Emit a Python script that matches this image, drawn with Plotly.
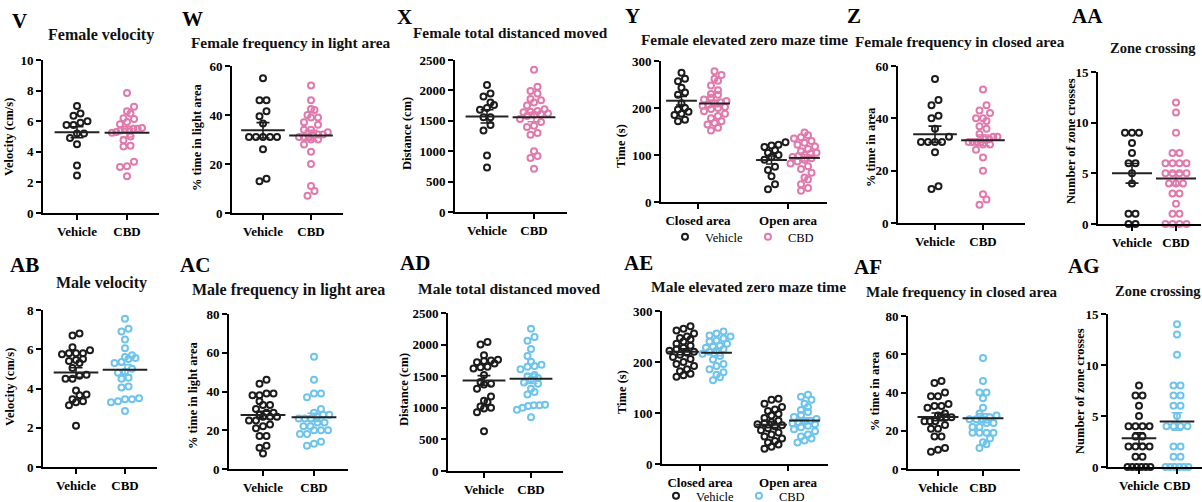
import numpy as np
import plotly.graph_objects as go

W_PX, H_PX = 1202, 502
SERIF = "Liberation Serif"
VEH_COLOR = "#1c1c1c"
PINK = "#e07aac"
BLUE = "#6ec4eb"
MEAN_COLOR = "#222222"

# ---------------- data ----------------
group_labels = ["Vehicle", "CBD"]
area_labels = ["Closed area", "Open area"]

# Female
f_velocity_vehicle = [7.0, 6.5, 6.35, 6.0, 5.9, 5.75, 5.75, 5.2, 5.2, 4.9, 4.5, 3.1, 2.45]
f_velocity_cbd = [7.85, 6.95, 6.65, 6.5, 6.2, 6.15, 5.95, 5.8, 5.55, 5.5, 5.5, 5.45, 5.45, 5.4,
                  5.3, 5.25, 5.0, 4.75, 4.4, 4.35, 3.35, 3.05, 3.0, 2.4]
f_light_vehicle = [55, 46, 46, 41.5, 39.5, 36.5, 31, 31, 31, 31, 31, 26, 14, 13]
f_light_cbd = [52, 46, 42.5, 42, 40, 39, 39, 37, 36, 34, 34, 33, 32, 32, 31.5, 31, 31, 31, 30, 30,
               28, 25, 20, 11, 9, 7]
f_distance_vehicle = [2090, 1950, 1900, 1800, 1760, 1710, 1680, 1560, 1560, 1430, 1340, 930, 730]
f_distance_cbd = [2340, 2060, 1990, 1950, 1860, 1840, 1800, 1750, 1690, 1660, 1650, 1640, 1620,
                  1610, 1600, 1580, 1530, 1480, 1420, 1400, 1300, 1270, 1000, 920, 890, 710]
f_ezm_closed_vehicle = [275, 262, 257, 243, 233, 228, 210, 200, 197, 192, 188, 185, 175, 172]
f_ezm_closed_cbd = [278, 270, 262, 258, 248, 238, 230, 228, 222, 218, 215, 212, 210, 207, 205, 202,
                    200, 198, 193, 188, 183, 178, 172, 168, 165, 158, 152]
f_ezm_open_vehicle = [127, 122, 120, 117, 110, 105, 100, 96, 90, 75, 68, 55, 38, 27]
f_ezm_open_cbd = [148, 142, 138, 135, 130, 126, 122, 118, 113, 108, 105, 103, 100, 98, 96, 93, 90,
                  86, 82, 76, 70, 62, 52, 48, 38, 30, 24]
f_closed_vehicle = [55, 47, 45, 41, 40, 36, 33, 31, 31, 31, 31, 27, 14, 13]
f_closed_cbd = [51, 45, 43, 42, 40, 40, 39, 37, 36, 34, 33, 33, 32, 32, 31, 31, 31, 31, 30, 30, 28,
                25, 20, 11, 9, 7]
f_zone_vehicle = [9, 9, 9, 8, 7, 6, 6, 5, 4, 1, 1, 0, 0]
f_zone_cbd = [12, 11, 9, 7, 7, 6, 6, 6, 6, 5, 5, 5, 5, 4, 4, 4, 3, 3, 2, 1, 1, 0, 0, 0, 0]

# Male
m_velocity_vehicle = [6.8, 6.7, 6.1, 5.95, 5.8, 5.8, 5.8, 5.75, 5.5, 5.45, 5.4, 5.3, 5.05, 4.7, 4.65,
                      4.5, 4.5, 3.9, 3.7, 3.65, 3.45, 3.35, 3.3, 3.15, 2.1]
m_velocity_cbd = [7.55, 7.05, 6.9, 6.5, 6.05, 5.7, 5.6, 5.55, 5.5, 5.35, 5.3, 5.0, 4.85, 4.8, 4.55,
                  4.5, 4.1, 4.05, 3.5, 3.45, 3.45, 3.35, 3.3, 2.85]
m_light_vehicle = [46, 44, 39, 39, 38, 38, 35, 33, 33, 31, 29, 29, 28, 27, 27, 27, 25, 25, 23, 22, 21,
                   17, 17, 12, 11, 8]
m_light_cbd = [58, 46, 39, 39, 37, 31, 29, 28, 28, 27, 26, 26, 26, 24, 24, 22, 22, 20, 20, 20, 18, 18,
               14, 13, 12]
m_distance_vehicle = [2040, 2000, 1830, 1760, 1750, 1740, 1720, 1700, 1650, 1640, 1620, 1520, 1410,
                      1380, 1370, 1300, 1180, 1110, 1090, 1020, 1000, 990, 930, 630]
m_distance_cbd = [2250, 2120, 2060, 1930, 1820, 1730, 1680, 1660, 1650, 1610, 1520, 1500, 1470, 1450,
                  1400, 1380, 1300, 1250, 1210, 1050, 1040, 1040, 1030, 1000, 970, 850]
m_ezm_closed_vehicle = [270, 265, 262, 256, 250, 247, 244, 240, 236, 232, 228, 225, 222, 220, 218,
                        214, 210, 206, 200, 196, 192, 186, 182, 177, 174, 171]
m_ezm_closed_cbd = [260, 256, 252, 250, 246, 242, 240, 236, 232, 230, 228, 225, 222, 220, 216, 212,
                    205, 196, 192, 186, 180, 175, 170, 164]
m_ezm_open_vehicle = [128, 126, 118, 112, 107, 104, 98, 95, 90, 85, 82, 80, 78, 76, 74, 70, 66, 62,
                      58, 54, 50, 45, 42, 38, 34, 30]
m_ezm_open_cbd = [136, 132, 126, 118, 112, 106, 102, 96, 92, 88, 85, 83, 82, 80, 78, 75, 72, 68, 64,
                  58, 54, 50, 46, 42]
m_closed_vehicle = [46, 45, 40, 38, 38, 34, 33, 33, 32, 29, 28, 27, 27, 27, 25, 25, 25, 23, 21, 21,
                    17, 17, 11, 10, 9]
m_closed_cbd = [58, 46, 40, 40, 37, 32, 29, 28, 27, 26, 26, 26, 24, 24, 22, 22, 19, 19, 19, 19, 16,
                14, 13, 11]
m_zone_vehicle = [8, 7, 7, 6, 5, 4, 4, 4, 4, 3, 3, 2, 2, 2, 2, 1, 1, 0, 0, 0, 0, 0, 0]
m_zone_cbd = [14, 13, 11, 8, 8, 7, 7, 6, 6, 5, 4, 4, 4, 4, 2, 2, 1, 1, 0, 0, 0, 0, 0, 0]

# ---------------- panel specs (layout in pixels) ----------------
# geom: (left, right, top, bottom, first category px, second category px)
panels = [
    dict(letter="V", title="Female velocity", ylabel="Velocity (cm/s)", ymax=10, dtick=2,
         kind="two", data=(f_velocity_vehicle, f_velocity_cbd), color=PINK,
         geom=(43, 159, 60, 213, 77, 127), lpos=(19, 21), tpos=(101, 35), tsize=16, ypos=(9, 137)),
    dict(letter="W", title="Female frequency in light area", ylabel="% time in light area", ymax=60, dtick=20,
         kind="two", data=(f_light_vehicle, f_light_cbd), color=PINK,
         geom=(232, 343, 66, 213, 263, 311), lpos=(192, 19), tpos=(290, 42), tsize=15.3, ypos=(197, 138)),
    dict(letter="X", title="Female total distanced moved", ylabel="Distance (cm)", ymax=2500, dtick=500,
         kind="two", data=(f_distance_vehicle, f_distance_cbd), color=PINK,
         geom=(455, 567, 60, 212, 487, 534), lpos=(404, 17), tpos=(510, 33), tsize=15.3, ypos=(407, 134)),
    dict(letter="Y", title="Female elevated zero maze time", ylabel="Time (s)", ymax=300, dtick=100,
         kind="ezm", data=(f_ezm_closed_vehicle, f_ezm_closed_cbd, f_ezm_open_vehicle, f_ezm_open_cbd),
         color=PINK, legend="legend",
         geom=(661, 827, 61, 202, 698, 788), lpos=(632, 16), tpos=(744, 39), tsize=15.3, ypos=(621, 146)),
    dict(letter="Z", title="Female frequency in closed area", ylabel="% time in area", ymax=60, dtick=20,
         kind="two", data=(f_closed_vehicle, f_closed_cbd), color=PINK,
         geom=(898, 1025, 66, 223, 935, 983), lpos=(854, 16), tpos=(960, 41), tsize=15.3, ypos=(871, 147)),
    dict(letter="AA", title="Zone crossing", ylabel="Number of zone crosses", ymax=15, dtick=5,
         kind="two", data=(f_zone_vehicle, f_zone_cbd), color=PINK,
         geom=(1098, 1201, 72, 224, 1132, 1176), lpos=(1087, 16), tpos=(1153, 48), tsize=14.5, ypos=(1071, 141)),
    dict(letter="AB", title="Male velocity", ylabel="Velocity (cm/s)", ymax=8, dtick=2,
         kind="two", data=(m_velocity_vehicle, m_velocity_cbd), color=BLUE,
         geom=(43, 157, 310, 467, 76, 125), lpos=(24, 265), tpos=(101, 283), tsize=16, ypos=(10, 387)),
    dict(letter="AC", title="Male frequency in light area", ylabel="% time in light area", ymax=80, dtick=20,
         kind="two", data=(m_light_vehicle, m_light_cbd), color=BLUE,
         geom=(229, 348, 314, 469, 263, 314), lpos=(195, 265), tpos=(288, 290), tsize=16, ypos=(193, 396)),
    dict(letter="AD", title="Male total distanced moved", ylabel="Distance (cm)", ymax=2500, dtick=500,
         kind="two", data=(m_distance_vehicle, m_distance_cbd), color=BLUE,
         geom=(448, 563, 313, 471, 484, 531), lpos=(415, 263), tpos=(509, 288), tsize=15.5, ypos=(404, 390)),
    dict(letter="AE", title="Male elevated zero maze time", ylabel="Time (s)", ymax=300, dtick=100,
         kind="ezm", data=(m_ezm_closed_vehicle, m_ezm_closed_cbd, m_ezm_open_vehicle, m_ezm_open_cbd),
         color=BLUE, legend="legend2",
         geom=(662, 828, 311, 464, 700, 788), lpos=(638, 263), tpos=(748, 286), tsize=15.5, ypos=(622, 392)),
    dict(letter="AF", title="Male frequency in closed area", ylabel="% time in area", ymax=80, dtick=20,
         kind="two", data=(m_closed_vehicle, m_closed_cbd), color=BLUE,
         geom=(908, 1020, 316, 469, 938, 983), lpos=(868, 267), tpos=(962, 292), tsize=15, ypos=(875, 391)),
    dict(letter="AG", title="Zone crossing", ylabel="Number of zone crosses", ymax=15, dtick=5,
         kind="two", data=(m_zone_vehicle, m_zone_cbd), color=BLUE,
         geom=(1108, 1202, 314, 467, 1139, 1177), lpos=(1084, 266), tpos=(1158, 291), tsize=14.5, ypos=(1080, 391)),
]

DIAM = 7.0  # pixel spacing between neighbouring dots in a swarm row


def swarm_offsets(values, px_per_unit, diam, max_width):
    """Prism-like scatter: dots of (nearly) equal value are spread in centred rows (pixel offsets)."""
    v = np.asarray(values, dtype=float)
    order = np.argsort(v, kind="stable")
    rows, cur = [], [order[0]]
    for idx in order[1:]:
        if (v[idx] - v[cur[0]]) * px_per_unit < 0.8 * diam:
            cur.append(idx)
        else:
            rows.append(cur)
            cur = [idx]
    rows.append(cur)
    offs = np.zeros(len(v))
    prev_y, prev_shift, prev_n, side = None, 0.0, 0, 1
    for r in rows:
        n = len(r)
        step = diam if n == 1 else min(diam, max_width / (n - 1))
        y = v[r].mean() * px_per_unit
        shift = 0.0
        if prev_y is not None and abs(y - prev_y) < diam and (n % 2) == (prev_n % 2):
            if prev_shift == 0:
                shift = side * step / 2
                side = -side
        for i, idx in enumerate(r):
            offs[idx] = (i - (n - 1) / 2) * step + shift
        prev_y, prev_shift, prev_n = y, shift, n
    return offs


fig = go.Figure()
annotations = []
axes = {}

axis_font = dict(family=SERIF, size=13, color="black", weight="bold")
cat_font = dict(family=SERIF, size=13, color="black", weight="bold")

for k, p in enumerate(panels, start=1):
    left, right, top, bottom, c0, c1 = p["geom"]
    sp = c1 - c0
    ypu = (bottom - top) / p["ymax"]
    xs = "x" if k == 1 else f"x{k}"
    ys = "y" if k == 1 else f"y{k}"
    xa = "xaxis" if k == 1 else f"xaxis{k}"
    ya = "yaxis" if k == 1 else f"yaxis{k}"

    axes[xa] = dict(domain=[left / W_PX, right / W_PX], range=[(left - c0) / sp, (right - c0) / sp],
                    anchor=ys, showline=True, linecolor="black", linewidth=2, ticks="outside",
                    ticklen=5, tickwidth=2, tickcolor="black", showgrid=False, zeroline=False,
                    tickvals=[0, 1], ticktext=group_labels if p["kind"] == "two" else area_labels,
                    tickfont=cat_font, fixedrange=True)
    axes[ya] = dict(domain=[1 - bottom / H_PX, 1 - top / H_PX], range=[0, p["ymax"]], anchor=xs,
                    tick0=0, dtick=p["dtick"], showline=True, linecolor="black", linewidth=2,
                    ticks="outside", ticklen=5, tickwidth=2, tickcolor="black", showgrid=False,
                    zeroline=False, tickfont=axis_font, fixedrange=True)

    if p["kind"] == "two":
        groups = [(0.0, p["data"][0], VEH_COLOR, "Vehicle"), (1.0, p["data"][1], p["color"], "CBD")]
        swarm_w = 0.6 * sp
        mean_len = min(32, 0.65 * sp)
        cap = 6.5 if sp > 42 else 5.5
        legend_id = None
    else:
        off = 16.5 / sp
        groups = [(0 - off, p["data"][0], VEH_COLOR, "Vehicle"), (0 + off, p["data"][1], p["color"], "CBD"),
                  (1 - off, p["data"][2], VEH_COLOR, "Vehicle"), (1 + off, p["data"][3], p["color"], "CBD")]
        swarm_w = 24
        mean_len = 22
        cap = 5.5
        legend_id = p["legend"]

    for gi, (xc, vals, color, name) in enumerate(groups):
        offs = swarm_offsets(vals, ypu, DIAM, swarm_w) / sp
        show_leg = legend_id is not None and gi < 2
        fig.add_trace(go.Scatter(
            x=list(xc + offs), y=vals, mode="markers", name=name,
            marker=dict(symbol="circle-open", size=6, color=color, line=dict(width=2, color=color)),
            xaxis=xs, yaxis=ys, cliponaxis=False, showlegend=show_leg,
            legend=legend_id if legend_id else "legend", hoverinfo="y"))
    for gi, (xc, vals, color, name) in enumerate(groups):
        arr = np.asarray(vals, dtype=float)
        m = arr.mean()
        se = arr.std(ddof=1) / np.sqrt(len(arr))
        fig.add_trace(go.Scatter(
            x=[xc], y=[m], mode="markers", showlegend=False,
            marker=dict(symbol="line-ew-open", size=mean_len, color=MEAN_COLOR,
                        line=dict(width=2, color=MEAN_COLOR)),
            error_y=dict(type="data", array=[se], width=cap, thickness=1.6, color=color),
            xaxis=xs, yaxis=ys, cliponaxis=False, hoverinfo="y"))

    lx, ly = p["lpos"]
    annotations.append(dict(text=p["letter"], x=lx / W_PX, y=1 - ly / H_PX, xref="paper", yref="paper",
                            showarrow=False, xanchor="center", yanchor="middle",
                            font=dict(family=SERIF, size=21, color="black", weight="bold")))
    tx, ty = p["tpos"]
    annotations.append(dict(text=p["title"], x=tx / W_PX, y=1 - ty / H_PX, xref="paper", yref="paper",
                            showarrow=False, xanchor="center", yanchor="middle",
                            font=dict(family=SERIF, size=p["tsize"], color="#111111", weight="bold")))
    yx, yy = p["ypos"]
    annotations.append(dict(text=p["ylabel"], x=yx / W_PX, y=1 - yy / H_PX, xref="paper", yref="paper",
                            showarrow=False, xanchor="center", yanchor="middle", textangle=-90,
                            font=dict(family=SERIF, size=12.5, color="black", weight="bold")))

legend_common = dict(orientation="h", xanchor="left", yanchor="middle", bgcolor="rgba(0,0,0,0)",
                     font=dict(family=SERIF, size=12.5, color="black"), itemwidth=30,
                     borderwidth=0, tracegroupgap=0)

fig.update_layout(
    width=W_PX, height=H_PX, autosize=False,
    margin=dict(l=0, r=0, t=0, b=0, autoexpand=False),
    paper_bgcolor="white", plot_bgcolor="white",
    annotations=annotations,
    legend=dict(x=665 / W_PX, y=1 - 237 / H_PX, **legend_common),
    legend2=dict(x=656 / W_PX, y=1 - 496 / H_PX, **legend_common),
    **axes,
)

fig.write_html("out.html", config={"displayModeBar": False},
               post_script="document.body.style.margin='0px';")
